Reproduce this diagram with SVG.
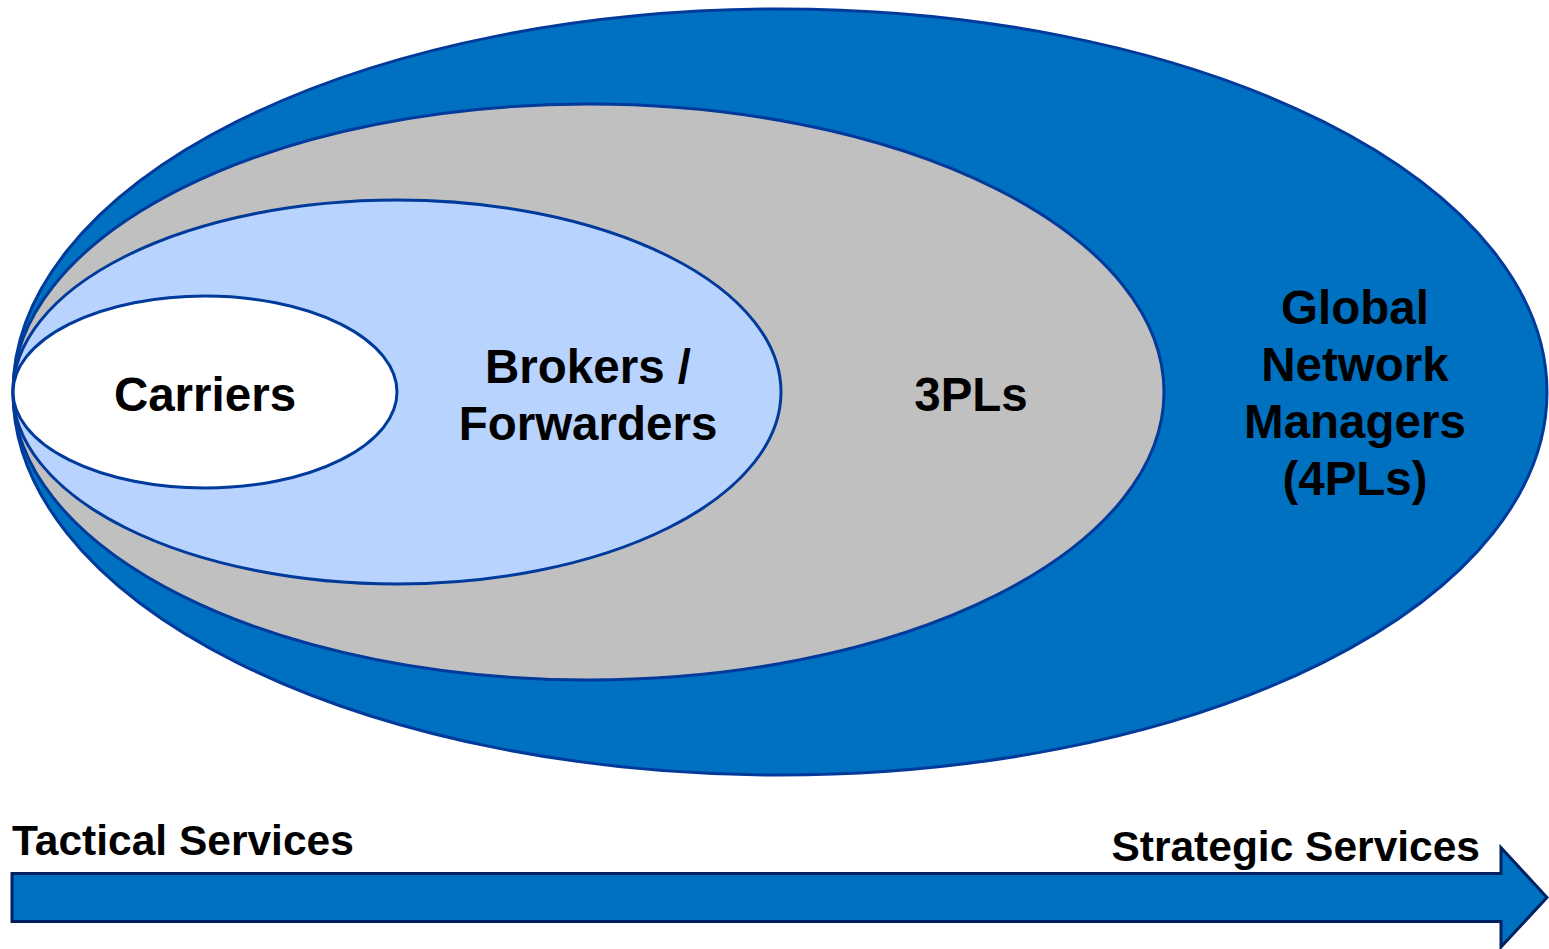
<svg xmlns="http://www.w3.org/2000/svg" width="1549" height="949" viewBox="0 0 1549 949">
  <style>
    .ring { stroke: #003A9B; stroke-width: 3; }
    .lbl { font-family: "Liberation Sans", Arial, sans-serif; font-weight: bold; fill: #000; text-anchor: middle; }
    .big { font-size: 47.5px; }
    .axis { font-family: "Liberation Sans", Arial, sans-serif; font-weight: bold; font-size: 42.5px; fill: #000; }
  </style>
  <rect width="1549" height="949" fill="#ffffff"/>

  <!-- nested service tiers, outermost first -->
  <g id="node-4pl">
    <ellipse class="ring" cx="780" cy="392" rx="767" ry="383" fill="#0070C0"/>
  </g>
  <g id="node-3pl">
    <ellipse class="ring" cx="588.5" cy="392" rx="575.5" ry="288" fill="#C0C0C0"/>
  </g>
  <g id="node-brokers">
    <ellipse class="ring" cx="397" cy="392" rx="384" ry="192" fill="#B7D3FE"/>
  </g>
  <g id="node-carriers">
    <ellipse class="ring" cx="205" cy="392" rx="192" ry="96" fill="#FFFFFF"/>
  </g>

  <!-- tier labels -->
  <g id="labels">
    <text class="lbl big" x="205" y="411">Carriers</text>
    <text class="lbl big" x="588" y="383">Brokers /</text>
    <text class="lbl big" x="588" y="440">Forwarders</text>
    <text class="lbl big" x="971" y="411">3PLs</text>
    <text class="lbl big" x="1355" y="324">Global</text>
    <text class="lbl big" x="1355" y="381">Network</text>
    <text class="lbl big" x="1355" y="438">Managers</text>
    <text class="lbl big" x="1355" y="495">(4PLs)</text>
  </g>

  <!-- tactical to strategic axis -->
  <g id="connectors">
    <path d="M12,873.5 H1501 V847.5 L1547,897.5 L1501,947 V921.5 H12 Z" fill="#0070C0" stroke="#002060" stroke-width="3" stroke-linejoin="miter"/>
  </g>
  <g id="axis-labels">
    <text class="axis" x="12" y="855">Tactical Services</text>
    <text class="axis" x="1480" y="861" text-anchor="end">Strategic Services</text>
  </g>
</svg>
